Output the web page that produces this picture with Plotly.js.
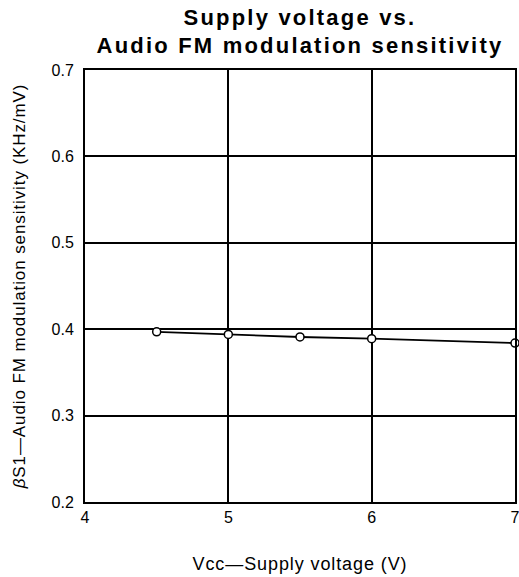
<!DOCTYPE html>
<html>
<head>
<meta charset="utf-8">
<script src="https://cdn.plot.ly/plotly-3.0.1.min.js"></script>
<style>
html,body{margin:0;padding:0;background:#fff;}
#chart{width:519px;height:577px;}
.gtitle{letter-spacing:2.2px;}
.xtitle,.ytitle{letter-spacing:0.9px;}
</style>
</head>
<body>
<div id="chart"></div>
<script>
const supplyVoltage = [4.5, 5, 5.5, 6, 7];
const sensitivity = [0.397, 0.394, 0.391, 0.389, 0.384];
const xTicks = [4, 5, 6, 7];
const yTicks = [0.2, 0.3, 0.4, 0.5, 0.6, 0.7];

const font = "Liberation Sans, Arial, sans-serif";

const trace = {
  x: supplyVoltage,
  y: sensitivity,
  mode: 'lines+markers',
  line: {color: '#000', width: 1.8},
  marker: {symbol: 'circle', size: 8, color: '#fff', line: {color: '#000', width: 1.5}},
  cliponaxis: false,
  showlegend: false
};

const layout = {
  width: 519, height: 577,
  margin: {l: 85, r: 4, t: 70, b: 75},
  paper_bgcolor: '#fff', plot_bgcolor: '#fff',
  title: {
    text: '<b>Supply voltage vs.<br>Audio FM modulation sensitivity</b>',
    font: {family: font, size: 22, color: '#000'},
    x: 0.578, xanchor: 'center', y: 0.957, yanchor: 'top'
  },
  xaxis: {
    range: [4, 7], tickvals: xTicks, ticktext: xTicks.map(String),
    showgrid: true, gridcolor: '#000', gridwidth: 2,
    showline: true, linecolor: '#000', linewidth: 2, mirror: true,
    ticks: '', zeroline: false, ticklabeloverflow: 'allow',
    tickfont: {family: font, size: 16, color: '#000'},
    title: {text: 'Vcc—Supply voltage (V)', font: {family: font, size: 18, color: '#000'}, standoff: 32}
  },
  yaxis: {
    range: [0.2, 0.7], tickvals: yTicks, ticktext: yTicks.map(v => v.toFixed(1)),
    showgrid: true, gridcolor: '#000', gridwidth: 2,
    showline: true, linecolor: '#000', linewidth: 2, mirror: true,
    ticks: '', zeroline: false, ticklabeloverflow: 'allow', ticklabelstandoff: 6,
    tickfont: {family: font, size: 16, color: '#000'},
    title: {text: '<i>β</i>S1—Audio FM modulation sensitivity (KHz/mV)', font: {family: font, size: 17, color: '#000'}, standoff: 22}
  }
};

Plotly.newPlot('chart', [trace], layout, {displayModeBar: false, staticPlot: true});
</script>
</body>
</html>
